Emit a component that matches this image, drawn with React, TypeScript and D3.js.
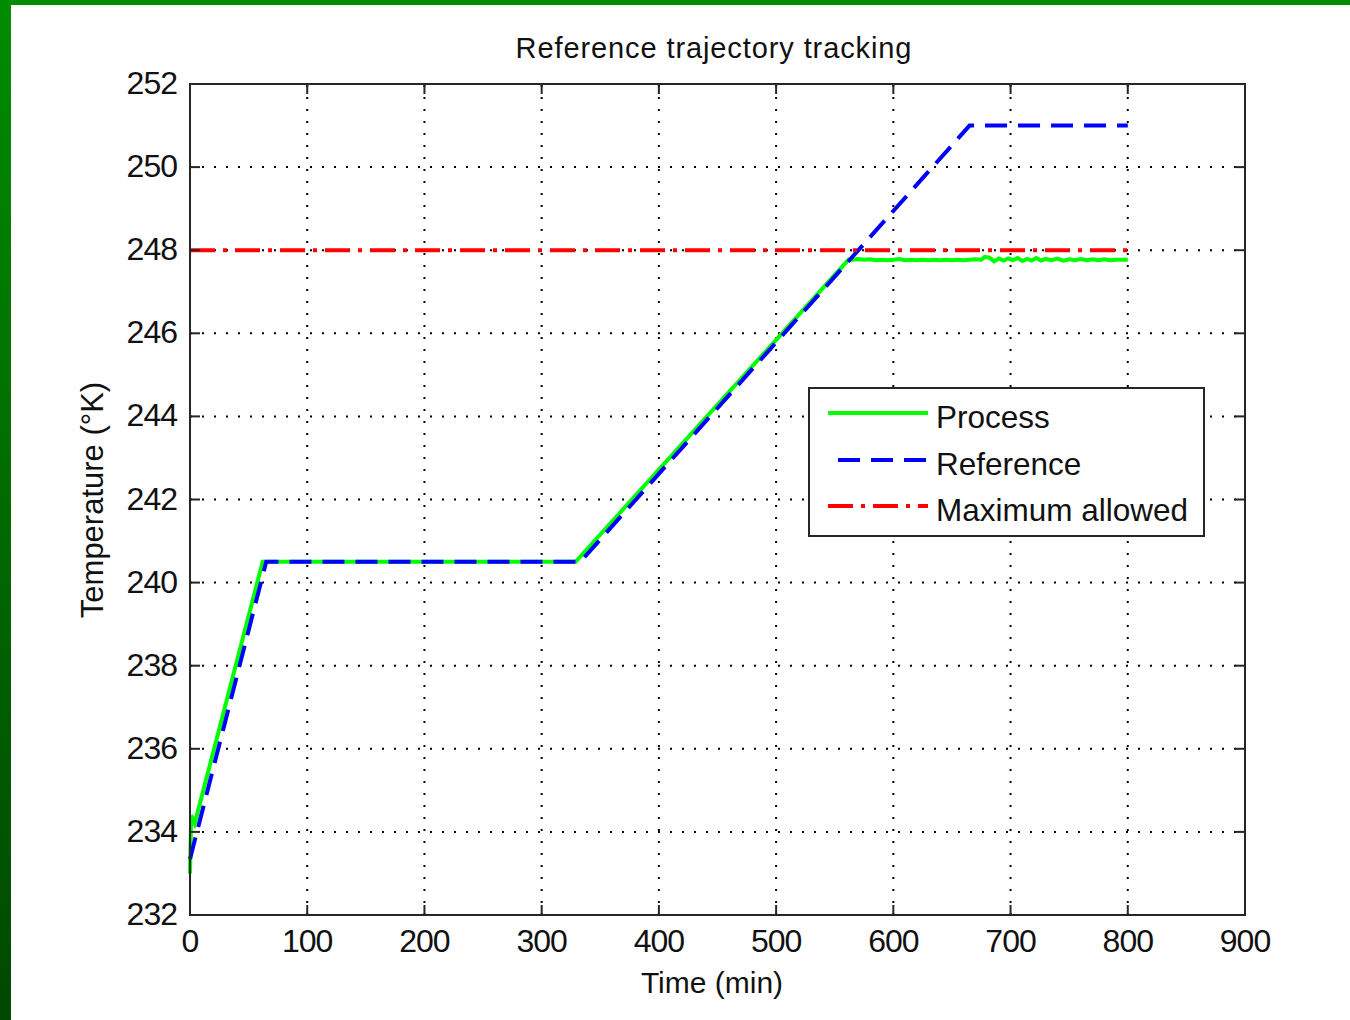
import React from "react";
import * as d3 from "d3";

const xTicks = [0, 100, 200, 300, 400, 500, 600, 700, 800, 900];
const yTicks = [232, 234, 236, 238, 240, 242, 244, 246, 248, 250, 252];

const referenceTimes = [0, 65, 333, 665, 800];
const referenceValues = [233.35, 240.5, 240.5, 251.0, 251.0];

const processTimes = [
  0, 1, 4, 62, 329, 562, 565, 570, 575, 580, 585, 590, 595, 600, 605, 610, 615, 620, 625, 630, 635, 640,
  645, 650, 655, 660, 665, 670, 675, 678, 682, 686, 690, 694, 698, 702, 706, 710, 714, 718, 722, 726,
  730, 735, 740, 745, 750, 755, 760, 765, 770, 775, 780, 785, 790, 795, 800,
];
const processValues = [
  233.0, 234.4, 234.2, 240.5, 240.5, 247.78, 247.77, 247.79, 247.77, 247.78, 247.76, 247.77, 247.76,
  247.77, 247.79, 247.76, 247.77, 247.76, 247.77, 247.76, 247.77, 247.76, 247.77, 247.76, 247.77, 247.76,
  247.77, 247.78, 247.77, 247.84, 247.82, 247.73, 247.8, 247.75, 247.8, 247.76, 247.81, 247.74, 247.79,
  247.75, 247.81, 247.75, 247.79, 247.76, 247.8, 247.75, 247.78, 247.76, 247.79, 247.76, 247.78, 247.76,
  247.78, 247.76, 247.77, 247.77, 247.77,
];

const maxTimes = [0, 800];
const maxValues = [248, 248];

const legendLabels = ["Process", "Reference", "Maximum allowed"];
const seriesColors = ["#00ff00", "#0000ff", "#ff0000"];
const seriesDash = ["none", "22,11", "25,8,4,8"];

const W = 1350;
const H = 1020;
const left = 190;
const right = 1245;
const top = 84;
const bottom = 915;

export default function App() {
  const x = d3.scaleLinear().domain([0, 900]).range([left, right]);
  const y = d3.scaleLinear().domain([232, 252]).range([bottom, top]);
  const line = d3
    .line<[number, number]>()
    .x((d) => x(d[0]))
    .y((d) => y(d[1]));

  const zip = (a: number[], b: number[]) => a.map((t, i) => [t, b[i]] as [number, number]);
  const series = [
    zip(processTimes, processValues),
    zip(referenceTimes, referenceValues),
    zip(maxTimes, maxValues),
  ];

  const font = "'Liberation Sans', Arial, sans-serif";
  const axisColor = "#262626";

  const legX = 809;
  const legY = 388;
  const legRows = [413, 460, 506];

  return (
    <svg
      width={W}
      height={H}
      style={{ position: "absolute", left: 0, top: 0, display: "block" }}
    >
      <defs>
        <linearGradient id="bg" x1="0" y1="0" x2="0" y2="1">
          <stop offset="0" stopColor="#008c00" />
          <stop offset="1" stopColor="#004800" />
        </linearGradient>
      </defs>
      <rect x={0} y={0} width={W} height={H} fill="url(#bg)" />
      <rect x={11} y={5} width={W - 11} height={H - 5} fill="#ffffff" />

      {/* grid */}
      {xTicks.slice(1, -1).map((t) => (
        <line
          key={"gx" + t}
          x1={x(t)}
          x2={x(t)}
          y1={bottom}
          y2={top}
          stroke="#000"
          strokeWidth={2}
          strokeDasharray="2,10"
        />
      ))}
      {yTicks.slice(1, -1).map((t) => (
        <line
          key={"gy" + t}
          x1={left}
          x2={right}
          y1={y(t)}
          y2={y(t)}
          stroke="#000"
          strokeWidth={2}
          strokeDasharray="2,10"
        />
      ))}

      {/* series */}
      {series.map((s, i) => (
        <path
          key={"s" + i}
          d={line(s) || ""}
          fill="none"
          stroke={seriesColors[i]}
          strokeWidth={4}
          strokeDasharray={seriesDash[i]}
        />
      ))}

      {/* frame */}
      <rect
        x={left}
        y={top}
        width={right - left}
        height={bottom - top}
        fill="none"
        stroke={axisColor}
        strokeWidth={2}
      />
      {xTicks.map((t) => (
        <g key={"tx" + t}>
          <line x1={x(t)} x2={x(t)} y1={bottom} y2={bottom - 10} stroke={axisColor} strokeWidth={2} />
          <line x1={x(t)} x2={x(t)} y1={top} y2={top + 10} stroke={axisColor} strokeWidth={2} />
          <text
            x={x(t)}
            y={bottom + 37}
            textAnchor="middle"
            fontFamily={font}
            fontSize={32}
            letterSpacing={-1}
            fill="#111"
          >
            {t}
          </text>
        </g>
      ))}
      {yTicks.map((t) => (
        <g key={"ty" + t}>
          <line x1={left} x2={left + 10} y1={y(t)} y2={y(t)} stroke={axisColor} strokeWidth={2} />
          <line x1={right} x2={right - 10} y1={y(t)} y2={y(t)} stroke={axisColor} strokeWidth={2} />
          <text
            x={177}
            y={y(t) + 10}
            textAnchor="end"
            fontFamily={font}
            fontSize={32}
            letterSpacing={-1}
            fill="#111"
          >
            {t}
          </text>
        </g>
      ))}

      {/* title and labels */}
      <text
        x={714}
        y={58}
        textAnchor="middle"
        fontFamily={font}
        fontSize={29}
        letterSpacing={0.9}
        fill="#111"
      >
        Reference trajectory tracking
      </text>
      <text x={712} y={993} textAnchor="middle" fontFamily={font} fontSize={30} fill="#111">
        Time (min)
      </text>
      <text
        transform="translate(103,500) rotate(-90)"
        textAnchor="middle"
        fontFamily={font}
        fontSize={31}
        fill="#111"
      >
        Temperature (°K)
      </text>

      {/* legend */}
      <rect
        x={legX}
        y={legY}
        width={1204 - legX}
        height={536 - legY}
        fill="#ffffff"
        stroke={axisColor}
        strokeWidth={2}
      />
      {legendLabels.map((lab, i) => (
        <g key={"lg" + i}>
          <line
            x1={i === 1 ? 838 : 828}
            x2={928}
            y1={legRows[i]}
            y2={legRows[i]}
            stroke={seriesColors[i]}
            strokeWidth={4}
            strokeDasharray={seriesDash[i]}
          />
          <text x={936} y={legRows[i] + 15} fontFamily={font} fontSize={31.5} fill="#111">
            {lab}
          </text>
        </g>
      ))}
    </svg>
  );
}
